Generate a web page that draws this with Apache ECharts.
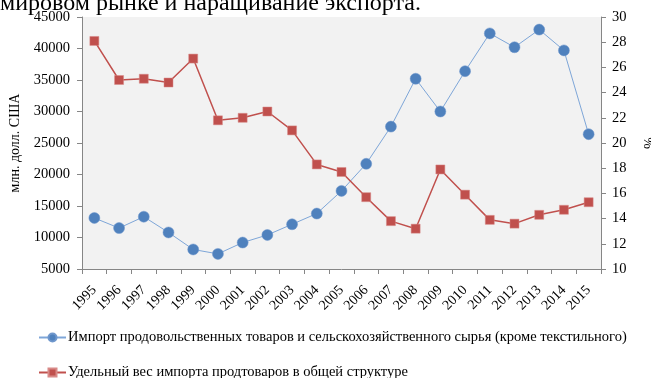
<!DOCTYPE html>
<html>
<head>
<meta charset="utf-8">
<script src="https://cdn.jsdelivr.net/npm/echarts@6/dist/echarts.min.js"></script>
<style>
  html, body { margin: 0; padding: 0; background: #ffffff; }
  #chart { width: 651px; height: 378px; }
</style>
</head>
<body>
<div id="chart"></div>
<script>
// Years on the category axis
const years = ['1995','1996','1997','1998','1999','2000','2001','2002','2003','2004','2005',
               '2006','2007','2008','2009','2010','2011','2012','2013','2014','2015'];

// Food and agricultural raw material imports, mln USD (left axis)
const importValues = [13100, 11500, 13300, 10800, 8100, 7400, 9200, 10400, 12100, 13800, 17400,
                      21700, 27600, 35200, 30000, 36400, 42400, 40200, 43000, 39700, 26400];

// Share of food imports in total import structure, % (right axis)
const shareValues = [28.1, 25.0, 25.1, 24.8, 26.7, 21.8, 22.0, 22.5, 21.0, 18.3, 17.7,
                     15.7, 13.8, 13.2, 17.9, 15.9, 13.9, 13.6, 14.3, 14.7, 15.3];

const seriesNames = [
  'Импорт продовольственных товаров и сельскохозяйственного сырья (кроме текстильного)',
  'Удельный вес импорта продтоваров в общей структуре'
];

const serif = '"Liberation Serif", "Times New Roman", serif';
const axisGray = '#868686';
const plainNumber = v => String(v);

const legendBase = {
  orient: 'horizontal',
  left: 38,
  padding: 0,
  itemWidth: 27,
  itemHeight: 10,
  textStyle: { fontFamily: serif, fontSize: 14.5, color: '#000000', padding: [0, 0, 0, -3] }
};

const chart = echarts.init(document.getElementById('chart'), null, { renderer: 'canvas' });

chart.setOption({
  animation: false,
  backgroundColor: '#ffffff',
  textStyle: { fontFamily: serif },
  graphic: [
    {
      type: 'text',
      left: 0,
      top: -8,
      style: {
        text: 'мировом рынке и наращивание экспорта.',
        font: '24px ' + serif,
        fill: '#000000'
      }
    }
  ],
  grid: {
    left: 82, right: 50, top: 17, bottom: 109,
    outerBoundsMode: 'none',
    containLabel: false,
    show: true,
    backgroundColor: '#f2f2f2',
    borderWidth: 0
  },
  legend: [
    Object.assign({}, legendBase, { top: 330, data: [seriesNames[0]] }),
    Object.assign({}, legendBase, { top: 365, data: [seriesNames[1]] })
  ],
  xAxis: {
    type: 'category',
    data: years,
    boundaryGap: true,
    axisLine: { lineStyle: { color: axisGray, width: 1 } },
    axisTick: { show: true, length: 5, lineStyle: { color: axisGray } },
    axisLabel: { rotate: 45, fontFamily: serif, fontSize: 14, color: '#000000', margin: 19, interval: 0 },
    splitLine: { show: false }
  },
  yAxis: [
    {
      type: 'value',
      min: 5000, max: 45000, interval: 5000,
      name: 'млн. долл. США',
      nameLocation: 'middle',
      nameGap: 60,
      nameTextStyle: { fontFamily: serif, fontSize: 14, color: '#000000' },
      axisLine: { show: true, lineStyle: { color: axisGray } },
      axisTick: { show: true, length: 5, lineStyle: { color: axisGray } },
      axisLabel: { fontFamily: serif, fontSize: 14.5, color: '#000000', margin: 12, formatter: plainNumber },
      splitLine: { show: false }
    },
    {
      type: 'value',
      min: 10, max: 30, interval: 2,
      name: '%',
      nameLocation: 'middle',
      nameGap: 40,
      nameRotate: -90,
      nameTextStyle: { fontFamily: serif, fontSize: 14, color: '#000000' },
      axisLine: { show: true, lineStyle: { color: axisGray } },
      axisTick: { show: true, length: 5, lineStyle: { color: axisGray } },
      axisLabel: { fontFamily: serif, fontSize: 14.5, color: '#000000', margin: 11, formatter: plainNumber },
      splitLine: { show: false }
    }
  ],
  series: [
    {
      name: seriesNames[0],
      type: 'line',
      yAxisIndex: 0,
      data: importValues,
      symbol: 'circle',
      symbolSize: 11,
      lineStyle: { color: '#7ea6d8', width: 1 },
      itemStyle: { color: '#4f81bd', borderColor: '#6f97cc', borderWidth: 0.5 },
      z: 2
    },
    {
      name: seriesNames[1],
      type: 'line',
      yAxisIndex: 1,
      data: shareValues,
      symbol: 'rect',
      symbolSize: 9,
      lineStyle: { color: '#c0504d', width: 1.5 },
      itemStyle: { color: '#c0504d', borderColor: '#d88a88', borderWidth: 0.5 },
      z: 3
    }
  ]
});
</script>
</body>
</html>
